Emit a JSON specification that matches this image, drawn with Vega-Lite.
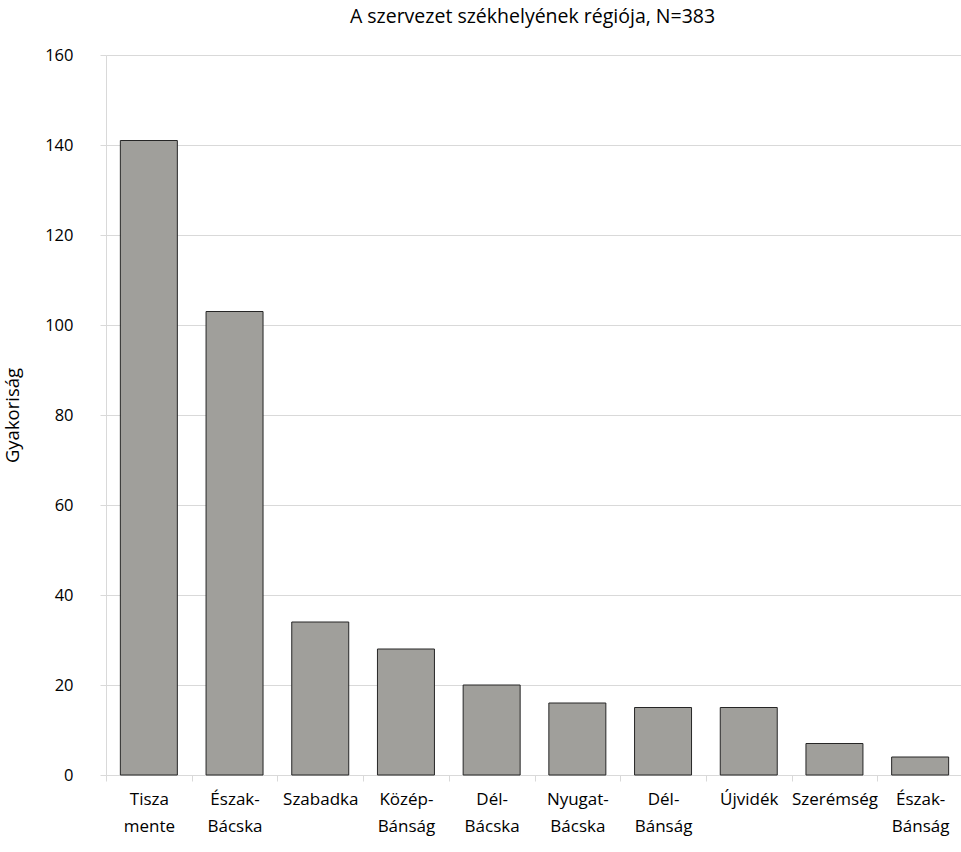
{
  "$schema": "https://vega.github.io/schema/vega-lite/v6.json",
  "autosize": {"type": "none"},
  "padding": {"left": 106, "top": 55, "right": 0, "bottom": 77},
  "width": 857,
  "height": 720,
  "title": {
    "text": "A szervezet székhelyének régiója, N=383",
    "font": "Open Sans",
    "fontSize": 19.5,
    "fontWeight": "normal",
    "color": "#000000",
    "anchor": "middle",
    "dx": -2,
    "offset": 20
  },
  "data": {
    "values": [
      {"region": "Tisza|mente", "n": 141},
      {"region": "Észak-|Bácska", "n": 103},
      {"region": "Szabadka", "n": 34},
      {"region": "Közép-|Bánság", "n": 28},
      {"region": "Dél-|Bácska", "n": 20},
      {"region": "Nyugat-|Bácska", "n": 16},
      {"region": "Dél-|Bánság", "n": 15},
      {"region": "Újvidék", "n": 15},
      {"region": "Szerémség", "n": 7},
      {"region": "Észak-|Bánság", "n": 4}
    ]
  },
  "mark": {"type": "bar", "fill": "#a09f9b", "stroke": "#262626", "strokeWidth": 1},
  "encoding": {
    "x": {
      "field": "region",
      "type": "nominal",
      "sort": null,
      "scale": {"paddingInner": 0.335, "paddingOuter": 0.1675},
      "axis": {
        "title": null,
        "labelAngle": 0,
        "labelExpr": "split(datum.label, '|')",
        "labelFont": "Open Sans",
        "labelFontSize": 17,
        "labelColor": "#000000",
        "labelLineHeight": 27,
        "labelPadding": 10,
        "bandPosition": 0,
        "tickOffset": -14.3,
        "labelOffset": 14.3,
        "tickSize": 6,
        "tickColor": "#d9d9d9",
        "domainColor": "#d9d9d9",
        "grid": false
      }
    },
    "y": {
      "field": "n",
      "type": "quantitative",
      "scale": {"domain": [0, 160]},
      "axis": {
        "title": "Gyakoriság",
        "titleFont": "Open Sans",
        "titleFontSize": 18.5,
        "titleFontWeight": "normal",
        "titleColor": "#000000",
        "titlePadding": 22,
        "values": [0, 20, 40, 60, 80, 100, 120, 140, 160],
        "labelFont": "Open Sans",
        "labelFontSize": 16.5,
        "labelColor": "#000000",
        "labelPadding": 27,
        "tickSize": 6,
        "tickColor": "#d9d9d9",
        "domainColor": "#d9d9d9",
        "gridColor": "#d9d9d9"
      }
    }
  },
  "config": {"view": {"stroke": null}}
}
